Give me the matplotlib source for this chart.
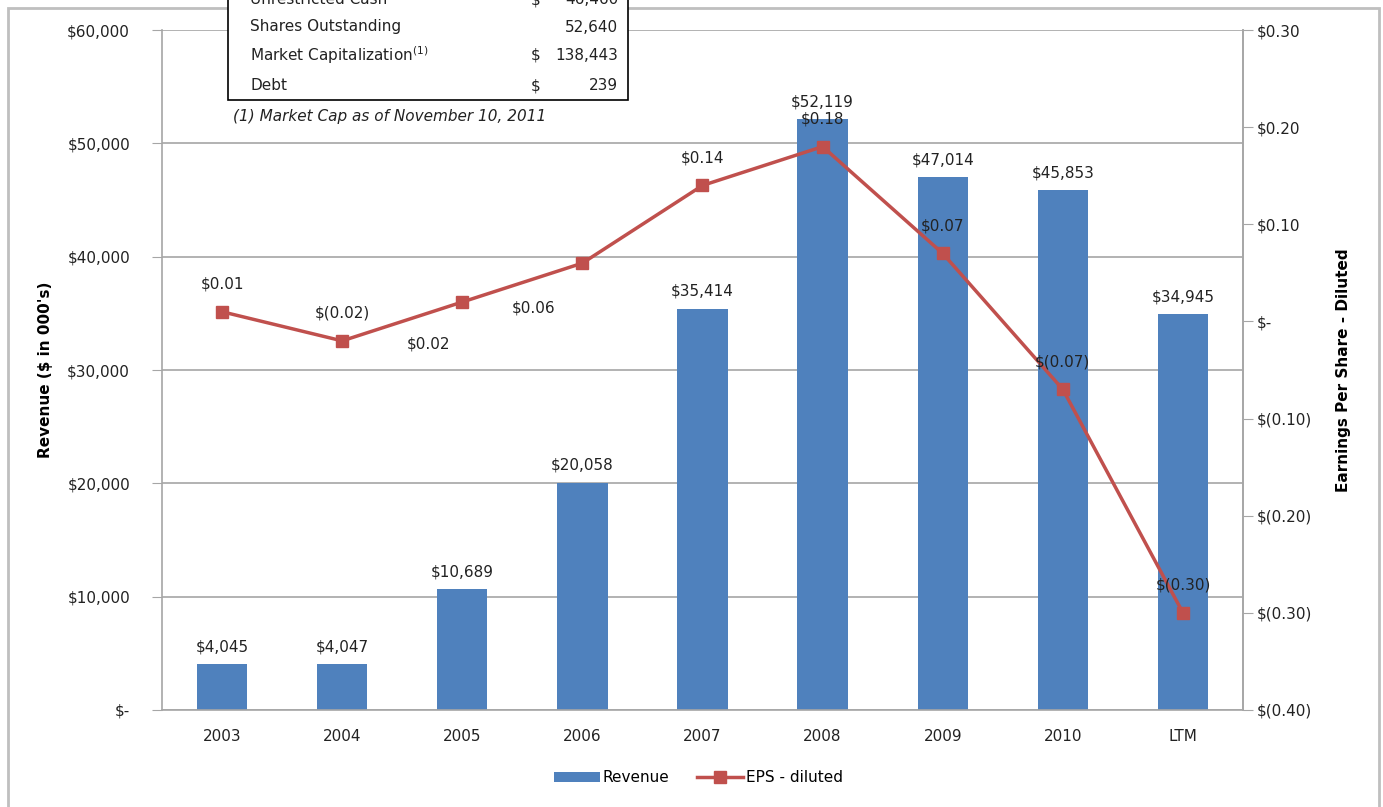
import numpy as np
import matplotlib
matplotlib.use('Agg')
import matplotlib.pyplot as plt
from matplotlib.patches import Rectangle

plt.rcParams['font.family'] = ['DejaVu Sans']

years = ['2003', '2004', '2005', '2006', '2007', '2008', '2009', '2010', 'LTM']
revenue = [4045, 4047, 10689, 20058, 35414, 52119, 47014, 45853, 34945]
eps = [0.01, -0.02, 0.02, 0.06, 0.14, 0.18, 0.07, -0.07, -0.30]
eps_labels = ['$0.01', '$(0.02)', '$0.02', '$0.06', '$0.14', '$0.18', '$0.07', '$(0.07)', '$(0.30)']
# label offsets in points (dx, dy) relative to marker
eps_offsets = [(0, 20), (0, 20), (-24, -30), (-35, -32), (0, 20), (0, 20), (0, 20), (0, 20), (0, 20)]

tbl_names = ['Unrestricted Cash', 'Shares Outstanding', 'Market Capitalization$^{(1)}$', 'Debt']
tbl_cur = ['$', '', '$', '$']
tbl_vals = ['46,460', '52,640', '138,443', '239']

blue = '#4F81BD'
red = '#C0504D'
grid = '#A6A6A6'
txt = '#222222'

fig = plt.figure(figsize=(13.83, 8.07), dpi=100)
ax = fig.add_axes([0.1171, 0.1202, 0.7817, 0.8426])
x = np.arange(len(years))
ax.bar(x, revenue, width=0.42, color=blue, zorder=2, label='Revenue')
for xi, v in zip(x, revenue):
    ax.annotate('${:,}'.format(v), (xi, v), xytext=(0, 7), textcoords='offset points',
                ha='center', va='bottom', fontsize=11, color=txt)
ax.set_xlim(-0.5, len(years) - 0.5)
ax.set_ylim(0, 60000)
ax.set_yticks(np.arange(0, 60001, 10000))
ax.set_yticklabels(['$-'] + ['${:,}'.format(v) for v in range(10000, 60001, 10000)])
ax.set_xticks(x)
ax.set_xticklabels(years)
ax.yaxis.grid(True, color=grid, linewidth=1.2, zorder=0)
ax.set_axisbelow(True)
ax.spines['top'].set_visible(False)
for s in ['left', 'bottom', 'right']:
    ax.spines[s].set_color(grid)
    ax.spines[s].set_linewidth(1.2)
ax.tick_params(axis='y', colors=grid, labelcolor=txt, labelsize=11, length=7, pad=16)
ax.tick_params(axis='x', length=0, labelcolor=txt, labelsize=11, pad=14)
ax.set_ylabel("Revenue ($ in 000's)", fontsize=11, fontweight='bold', labelpad=10)

ax2 = ax.twinx()
ax2.plot(x, eps, color=red, linewidth=2.5, marker='s', markersize=9, label='EPS - diluted', zorder=3)
for xi, v, lab, off in zip(x, eps, eps_labels, eps_offsets):
    ax2.annotate(lab, (xi, v), xytext=off, textcoords='offset points',
                 ha='center', va='center', fontsize=11, color=txt)
ax2.set_ylim(-0.40, 0.30)
ticks2 = [-0.4, -0.3, -0.2, -0.1, 0, 0.1, 0.2, 0.3]
ax2.set_yticks(ticks2)
ax2.set_yticklabels(['$(0.40)', '$(0.30)', '$(0.20)', '$(0.10)', '$-', '$0.10', '$0.20', '$0.30'])
ax2.tick_params(axis='y', colors=grid, labelcolor=txt, labelsize=11, length=7, pad=3)
for s in ['top', 'left', 'bottom']:
    ax2.spines[s].set_visible(False)
ax2.spines['right'].set_color(grid)
ax2.spines['right'].set_linewidth(1.2)
ax2.set_ylabel('Earnings Per Share - Diluted', fontsize=11, fontweight='bold', labelpad=17)

h1, l1 = ax.get_legend_handles_labels()
h2, l2 = ax2.get_legend_handles_labels()
fig.legend(h1 + h2, l1 + l2, loc='center', bbox_to_anchor=(0.505, 0.036), ncol=2,
           frameon=False, fontsize=11, handlelength=3, handletextpad=0.2, columnspacing=1.8)

# outer border
fig.patches.append(Rectangle((8 / 1383, -0.05), 1371 / 1383, 1 - 8 / 807 + 0.05,
                             transform=fig.transFigure, fill=False, edgecolor='#BFBFBF', linewidth=2))

# info box (top row is cut off by the image edge, as in the original)
bx0, bx1 = 228 / 1383, 628 / 1383
by0, by1 = 1 - 100 / 807, 1.05
fig.patches.append(Rectangle((bx0, by0), bx1 - bx0, by1 - by0, transform=fig.transFigure,
                             facecolor='white', edgecolor='black', linewidth=1.2, zorder=5))
row_y = [0, 27, 55, 86]
for name, cur, val, ry in zip(tbl_names, tbl_cur, tbl_vals, row_y):
    yy = 1 - ry / 807
    fig.text(250 / 1383, yy, name, fontsize=11, va='center', ha='left', color=txt, zorder=6)
    if cur:
        fig.text(531 / 1383, yy, cur, fontsize=11, va='center', ha='left', color=txt, zorder=6)
    fig.text(618 / 1383, yy, val, fontsize=11, va='center', ha='right', color=txt, zorder=6)
fig.text(233 / 1383, 1 - 117 / 807, '(1) Market Cap as of November 10, 2011', fontsize=11,
         style='italic', va='center', ha='left', color=txt, zorder=6)

fig.savefig('out.png', dpi=100)
